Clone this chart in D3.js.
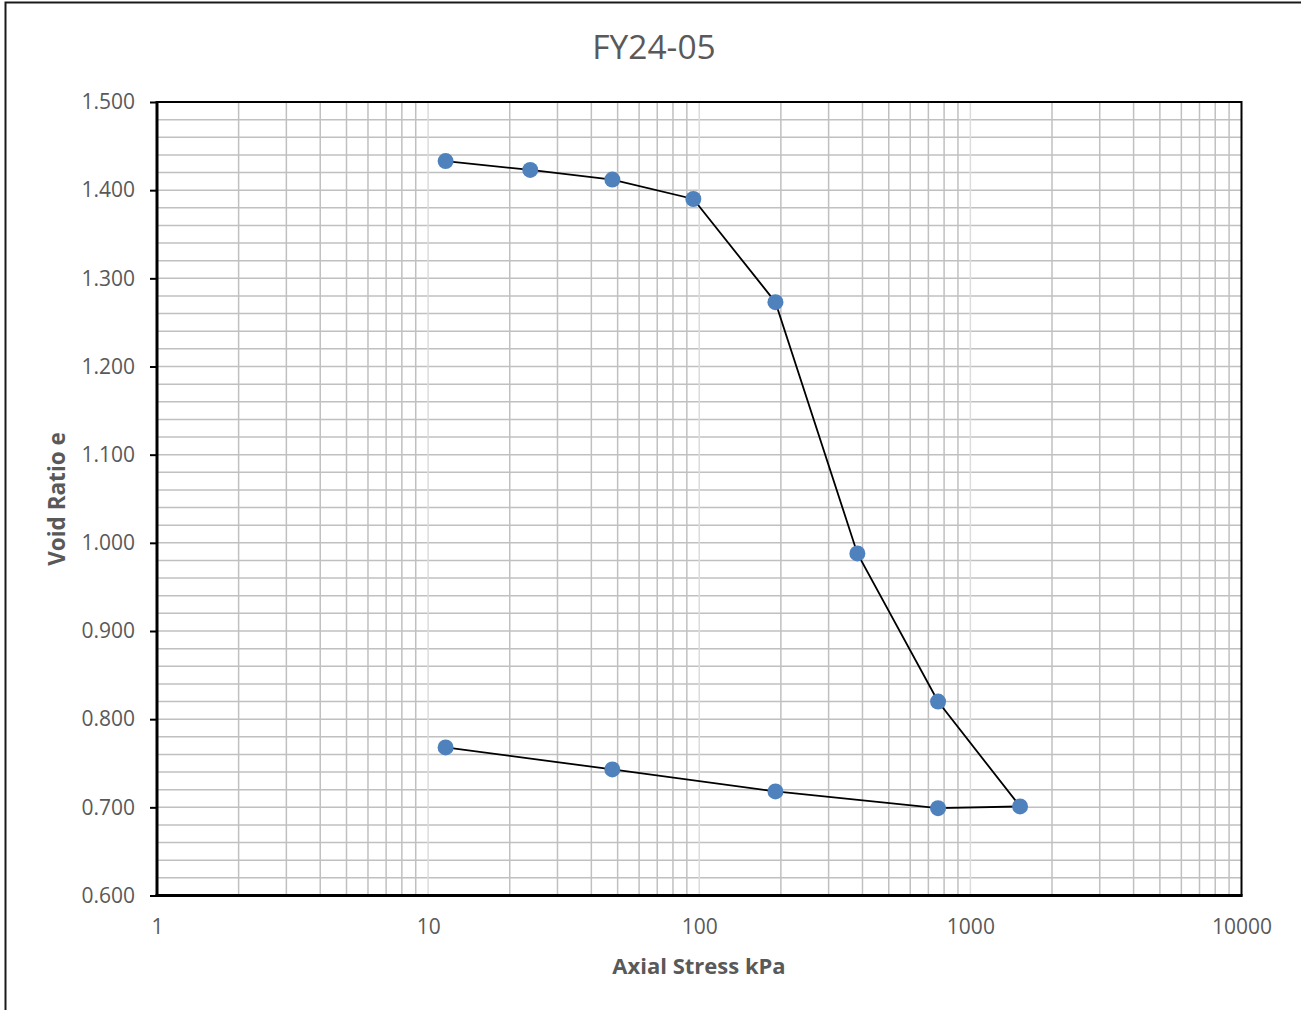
<!DOCTYPE html>
<html><head><meta charset="utf-8">
<script src="https://cdn.jsdelivr.net/npm/d3@7"></script>
<style>
html,body{margin:0;padding:0;background:#fff;}
svg{display:block;}
</style></head>
<body>
<svg id="chart" width="1301" height="1010"></svg>
<script>
const chartTitle = "FY24-05";
const xAxisTitle = "Axial Stress kPa";
const yAxisTitle = "Void Ratio e";
const stress = [11.6, 23.8, 47.8, 95.1, 191, 383, 760, 1525, 760, 191, 47.8, 11.6];
const voidRatio = [1.433, 1.423, 1.412, 1.390, 1.273, 0.988, 0.820, 0.701, 0.699, 0.718, 0.743, 0.768];
const xTicks = [1, 10, 100, 1000, 10000];
const yTicks = [0.6, 0.7, 0.8, 0.9, 1.0, 1.1, 1.2, 1.3, 1.4, 1.5];

const svg = d3.select("#chart");
const L = 157, R = 1241.5, T = 102, B = 895.5;
const x = d3.scaleLog().domain([1, 10000]).range([L, R]);
const y = d3.scaleLinear().domain([0.6, 1.5]).range([B, T]);

// outer chart border
svg.append("rect").attr("x", 5.5).attr("y", 2.5).attr("width", 1400).attr("height", 1100)
  .attr("fill", "none").attr("stroke", "#1a1a1a").attr("stroke-width", 2);

// horizontal grid every 0.02
const hGrid = d3.range(31, 75).map(i => i * 0.02);
svg.append("g").selectAll("line").data(hGrid).join("line")
  .attr("x1", L).attr("x2", R)
  .attr("y1", d => y(d)).attr("y2", d => y(d))
  .attr("stroke", "#c0c0c0").attr("stroke-width", 1.5);

// vertical grid: minors darker, decades lighter
const minors = [];
[1, 10, 100, 1000].forEach(dec => { for (let k = 2; k <= 9; k++) minors.push(dec * k); });
svg.append("g").selectAll("line").data(minors).join("line")
  .attr("x1", d => x(d)).attr("x2", d => x(d)).attr("y1", T).attr("y2", B)
  .attr("stroke", "#c0c0c0").attr("stroke-width", 1.5);
svg.append("g").selectAll("line").data([10, 100, 1000]).join("line")
  .attr("x1", d => x(d)).attr("x2", d => x(d)).attr("y1", T).attr("y2", B)
  .attr("stroke", "#dcdcdc").attr("stroke-width", 1.5);

// plot border
svg.append("rect").attr("x", L).attr("y", T).attr("width", R - L).attr("height", B - T)
  .attr("fill", "none").attr("stroke", "#000").attr("stroke-width", 2);
// thicker left and bottom axis lines
svg.append("line").attr("x1", L).attr("x2", L).attr("y1", T - 1).attr("y2", B + 1.5)
  .attr("stroke", "#000").attr("stroke-width", 3);
svg.append("line").attr("x1", L - 1.5).attr("x2", R + 1).attr("y1", B).attr("y2", B)
  .attr("stroke", "#000").attr("stroke-width", 3);

// y axis
const yAxis = d3.axisLeft(y).tickValues(yTicks).tickFormat(d3.format(".3f")).tickSize(7).tickPadding(15);
const gy = svg.append("g").attr("transform", `translate(${L},0)`).call(yAxis);
gy.select(".domain").remove();
gy.selectAll(".tick line").attr("stroke", "#000").attr("stroke-width", 2);
gy.selectAll(".tick text").attr("fill", "#595959").style("font-family", "'Open Sans', sans-serif").style("font-size", "21px");

// x axis
const xAxis = d3.axisBottom(x).tickValues(xTicks).tickFormat(d3.format("d")).tickSize(0).tickPadding(24);
const gx = svg.append("g").attr("transform", `translate(0,${B})`).call(xAxis);
gx.select(".domain").remove();
gx.selectAll(".tick text").attr("fill", "#595959").style("font-family", "'Open Sans', sans-serif").style("font-size", "21px");

// line + points
const pts = stress.map((s, i) => [s, voidRatio[i]]);
svg.append("path").datum(pts)
  .attr("d", d3.line().x(d => x(d[0])).y(d => y(d[1])))
  .attr("fill", "none").attr("stroke", "#000").attr("stroke-width", 1.8);
svg.append("g").selectAll("circle").data(pts).join("circle")
  .attr("cx", d => x(d[0])).attr("cy", d => y(d[1])).attr("r", 8)
  .attr("fill", "#4f81bd");

// titles
svg.append("text").attr("x", 654).attr("y", 59).attr("text-anchor", "middle")
  .attr("fill", "#595959").style("font-family", "'Open Sans', sans-serif").style("font-size", "33.5px")
  .text(chartTitle);
svg.append("text").attr("x", 699).attr("y", 974).attr("text-anchor", "middle")
  .attr("fill", "#595959").style("font-family", "'Open Sans', sans-serif").style("font-weight", "bold").style("font-size", "22px")
  .text(xAxisTitle);
svg.append("text").attr("transform", "translate(65,499) rotate(-90)").attr("text-anchor", "middle")
  .attr("fill", "#595959").style("font-family", "'Open Sans', sans-serif").style("font-weight", "bold").style("font-size", "22.5px")
  .text(yAxisTitle);
</script>
</body></html>
